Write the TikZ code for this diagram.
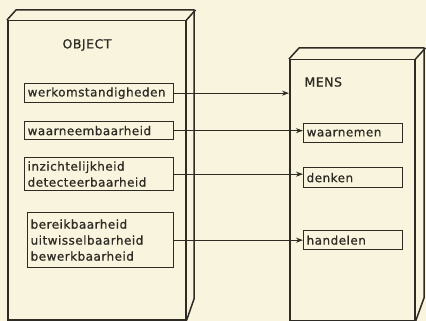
\documentclass[tikz,border=0pt]{standalone}
\usepackage{fontspec}
\setmainfont{DejaVu Sans}[LetterSpace=4, FakeBold=0.8]
\usetikzlibrary{arrows.meta}
\definecolor{paper}{HTML}{F8F4DE}
\definecolor{ink}{HTML}{2E2A24}
\tikzset{
  solid3d/.style={draw=ink, line width=1.5pt, rectangle, inner sep=0pt, anchor=north west},
  item/.style={draw=ink, line width=1.3pt, rectangle, anchor=north west, align=left, inner xsep=3pt, inner ysep=1pt, font=\fontsize{12}{16}\selectfont, text=ink},
  edge/.style={draw=ink, line width=1.2pt, -{Stealth[length=7pt,width=5pt]}},
  title/.style={text=ink, font=\fontsize{12.5}{14}\selectfont}
}
\begin{document}
\begin{tikzpicture}[x=1pt,y=-1pt]
\useasboundingbox[fill=paper] (0,0) rectangle (426,321);
% OBJECT block
\node[solid3d, minimum width=178pt, minimum height=299pt] (obj) at (7,20) {};
\draw[ink, line width=1.5pt, line join=round] (obj.north west) -- ++(9,-10) -- ++(178,0) -- ++(0,289) -- (obj.south east);
\draw[ink, line width=1.5pt] (obj.north east) -- ++(9,-10);
\node[title] (objlabel) at (87,45) {OBJECT};
% MENS block
\node[solid3d, minimum width=125pt, minimum height=261pt] (mens) at (289,59) {};
\draw[ink, line width=1.5pt, line join=round] (mens.north west) -- ++(10,-11) -- ++(125,0) -- ++(0,250) -- (mens.south east);
\draw[ink, line width=1.5pt] (mens.north east) -- ++(10,-11);
\node[title, anchor=west] (menslabel) at (301,82) {MENS};
% object items
\node[item, text width=143pt, minimum height=19pt] (werk) at (24,83) {werkomstandigheden};
\node[item, text width=143pt, minimum height=18pt] (waarn) at (24,121) {waarneembaarheid};
\node[item, text width=143pt, minimum height=33pt] (inz) at (24,157) {inzichtelijkheid\\detecteerbaarheid};
\node[item, text width=140pt, minimum height=55pt] (ber) at (27,212) {bereikbaarheid\\uitwisselbaarheid\\bewerkbaarheid};
% mens items
\node[item, text width=93pt, minimum height=19pt] (wm) at (303,123) {waarnemen};
\node[item, text width=93pt, minimum height=20pt] (dk) at (303,167) {denken};
\node[item, text width=93pt, minimum height=19pt] (hd) at (303,230) {handelen};
% connectors
\draw[edge] (werk.east) -- (werk.east -| mens.west);
\draw[edge] (waarn.east) -- (waarn.east -| wm.west);
\draw[edge] (inz.east) -- (inz.east -| dk.west);
\draw[edge] (ber.east) -- (ber.east -| hd.west);
\end{tikzpicture}
\end{document}
